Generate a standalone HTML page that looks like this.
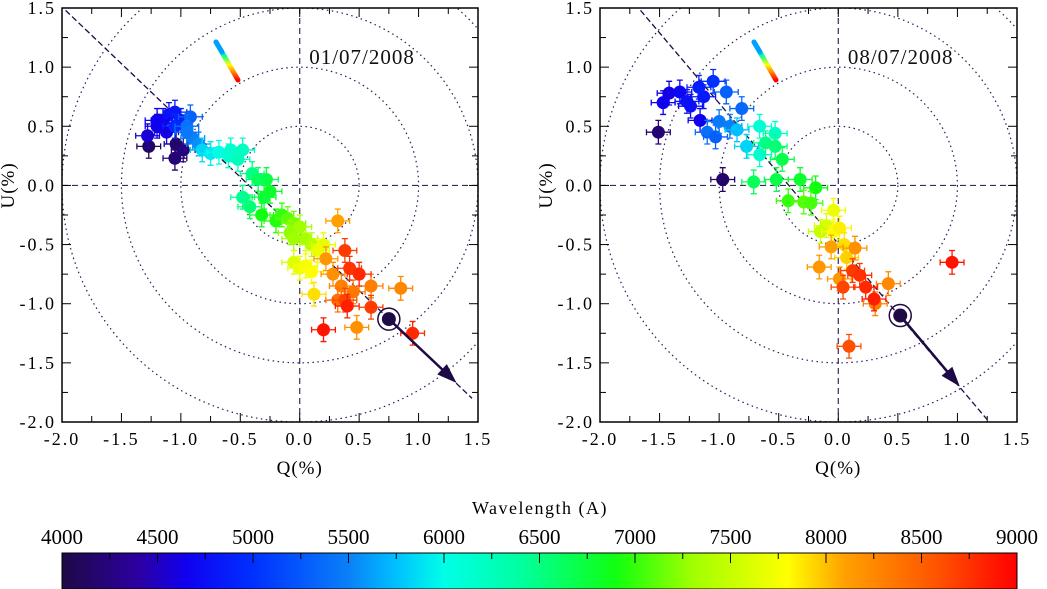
<!DOCTYPE html>
<html><head><meta charset="utf-8">
<style>
html,body{margin:0;padding:0;background:#fff;}
svg{display:block;font-family:"Liberation Serif",serif;}
svg text{font-family:"Liberation Serif",serif;}
</style></head>
<body>
<svg id="chart" width="1047" height="589" viewBox="0 0 1047 589" xmlns="http://www.w3.org/2000/svg">
<defs>
<linearGradient id="cbar" x1="0" x2="1" y1="0" y2="0">
<stop offset="0" stop-color="#1e0a45"/>
<stop offset="0.08" stop-color="#2c00a0"/>
<stop offset="0.13" stop-color="#1000f0"/>
<stop offset="0.2" stop-color="#0030ff"/>
<stop offset="0.3" stop-color="#0a80f8"/>
<stop offset="0.35" stop-color="#00c0ff"/>
<stop offset="0.4" stop-color="#00ffe8"/>
<stop offset="0.48" stop-color="#00ffa0"/>
<stop offset="0.58" stop-color="#10ff10"/>
<stop offset="0.66" stop-color="#a0ff00"/>
<stop offset="0.76" stop-color="#ffff00"/>
<stop offset="0.82" stop-color="#ffa000"/>
<stop offset="0.92" stop-color="#ff5000"/>
<stop offset="1" stop-color="#ff0000"/>
</linearGradient>
<linearGradient id="comet" x1="0" y1="0" x2="0" y2="1">
<stop offset="0" stop-color="#00a0ff"/>
<stop offset="0.35" stop-color="#00ffa0"/>
<stop offset="0.6" stop-color="#ffff00"/>
<stop offset="1" stop-color="#ff0000"/>
</linearGradient>
</defs>
<g id="layer"></g>
</svg>
<script>
// Panel 1 (01/07/2008)
const p1Q=[-1.27,-1.04,-1.05,-0.98,-1.28,-1.2,-1.15,-1.1,-1.05,-1.0,-1.12,-1.2,-1.05,-0.92,-0.95,-0.9,-0.85,-0.95,-0.82,-0.75,-0.68,-0.6,-0.58,-0.48,-0.52,-0.4,-0.35,-0.28,-0.48,-0.42,-0.3,-0.25,-0.32,-0.2,-0.15,-0.1,-0.05,-0.08,0.0,0.05,0.1,-0.05,-0.05,0.0,0.05,0.1,0.12,0.2,0.15,0.32,0.22,0.28,0.35,0.45,0.48,0.6,0.85,0.32,0.38,0.42,0.5,0.38,0.2,0.4,0.6,0.95];
const p1U=[0.33,0.35,0.23,0.30,0.42,0.5,0.55,0.6,0.62,0.55,0.45,0.55,0.5,0.58,0.5,0.4,0.35,0.45,0.3,0.27,0.28,0.25,0.3,0.3,0.22,0.1,0.05,0.05,-0.1,-0.18,-0.1,-0.05,-0.25,-0.3,-0.25,-0.28,-0.32,-0.4,-0.35,-0.45,-0.5,-0.45,-0.65,-0.7,-0.68,-0.73,-0.92,-0.5,-0.55,-0.3,-0.62,-0.75,-0.85,-0.9,-1.2,-0.85,-0.87,-0.97,-0.55,-0.7,-0.75,-0.97,-1.22,-1.02,-1.03,-1.25];
const p1W=[4100,4150,4200,4250,4600,4700,4750,4800,4850,4900,4650,4700,4950,5300,5400,5500,5550,5450,5800,5900,6000,6100,6150,6200,6250,6500,6600,6700,6450,6550,6750,6800,6900,6950,7000,7100,7200,7250,7300,7350,7400,7300,7600,7700,7750,7800,7900,7650,7700,8100,8150,8200,8300,8350,8200,8300,8250,8400,8700,8750,8800,8650,8900,8850,8700,8800];
// Panel 2 (08/07/2008)
const p2Q=[-1.51,-0.97,-1.47,-1.42,-1.33,-1.24,-1.16,-1.13,-1.05,-1.17,-1.27,-0.94,-0.81,-1.1,-1.03,-1.0,-0.91,-0.85,-0.77,-0.66,-0.53,-0.66,-0.61,-0.53,-0.47,-0.71,-0.52,-0.32,-0.19,-0.42,-0.29,-0.23,-0.04,-0.1,-0.15,-0.04,0.01,0.05,0.07,-0.06,-0.16,0.14,0.01,0.42,0.31,0.09,0.12,0.18,0.04,0.23,0.3,0.955];
const p2U=[0.45,0.05,0.7,0.78,0.79,0.67,0.55,0.75,0.88,0.83,0.71,0.79,0.65,0.45,0.41,0.54,0.5,0.47,0.33,0.5,0.44,0.26,0.36,0.33,0.22,0.03,0.05,0.05,-0.02,-0.13,-0.14,-0.15,-0.21,-0.34,-0.39,-0.39,-0.36,-0.5,-0.61,-0.52,-0.69,-0.53,-0.79,-0.83,-1.0,-1.36,-0.72,-0.76,-0.86,-0.86,-0.96,-0.65];
const p2W=[4200,4150,4700,4650,4750,4800,4700,4850,5000,4900,4800,5300,5350,5400,5300,5450,5500,5700,5800,6100,6200,6150,6500,6550,6700,6650,6700,6800,6900,7000,7100,7050,7700,7600,7500,7800,7850,7900,7950,8100,8150,8200,8150,8250,8300,8600,8700,8750,8650,8800,8850,8900];
const ticksQ=[-2.0,-1.5,-1.0,-0.5,0.0,0.5,1.0,1.5];
const ticksU=[1.5,1.0,0.5,0.0,-0.5,-1.0,-1.5,-2.0];
const cbarTicks=[4000,4500,5000,5500,6000,6500,7000,7500,8000,8500,9000];

const NS="http://www.w3.org/2000/svg";
const FONT='"Liberation Serif", serif';
const L=document.getElementById('layer');
function mk(t,a,p){const e=document.createElementNS(NS,t);for(const k in a)e.setAttribute(k,a[k]);if(t==='text')e.setAttribute('font-family',FONT);(p||L).appendChild(e);return e;}
const stops=[[4000,[30,10,69]],[4400,[44,0,160]],[4700,[16,0,240]],[5000,[0,48,255]],[5500,[10,128,248]],[5700,[0,192,255]],[6000,[0,255,232]],[6400,[0,255,160]],[6900,[16,255,16]],[7300,[160,255,0]],[7800,[255,255,0]],[8100,[255,160,0]],[8600,[255,80,0]],[9000,[255,0,0]]];
function col(w){for(let i=0;i<stops.length-1;i++){const a=stops[i],b=stops[i+1];if(w<=b[0]){const t=Math.max(0,(w-a[0])/(b[0]-a[0]));const c=a[1].map((v,j)=>Math.round(v+(b[1][j]-v)*t));return `rgb(${c})`;}}return 'rgb(255,0,0)';}

function panel(x0,x1,Q,U,W,date,lineA,lineB,star,arrowEnd,name){
 const y0=8,y1=422;
 const sx=q=>x0+(q+2)/3.5*(x1-x0);
 const sy=u=>y0+(1.5-u)/3.5*(y1-y0);
 const g=mk('g',{});
 
 
 const cp='clip'+name;
 const clip=mk('clipPath',{id:cp},g);mk('rect',{x:x0,y:y0,width:x1-x0,height:y1-y0},clip);
 const inner=mk('g',{'clip-path':`url(#${cp})`},g);
 [0.5,1,1.5,2].forEach(r=>{const c=mk('ellipse',{cx:sx(0),cy:sy(0),rx:sx(r)-sx(0),ry:sy(0)-sy(r),fill:'none',stroke:'#2a1a5a','stroke-width':1.2,'stroke-dasharray':'1.5 3.5'},inner);});
 mk('line',{x1:x0,x2:x1,y1:sy(0),y2:sy(0),stroke:'#3a2a5a','stroke-width':1.2,'stroke-dasharray':'6 4'},inner);
 mk('line',{x1:sx(0),x2:sx(0),y1:y0,y2:y1,stroke:'#3a2a5a','stroke-width':1.2,'stroke-dasharray':'6 4'},inner);
 const dl=mk('line',{x1:sx(lineA[0]),y1:sy(lineA[1]),x2:sx(lineB[0]),y2:sy(lineB[1]),stroke:'#1e0a45','stroke-width':1.3,'stroke-dasharray':'6 3'},inner);
 
 for(let i=0;i<Q.length;i++){
  const c=col(W[i]),x=sx(Q[i]),y=sy(U[i]),ex=sx(0.1)-sx(0),ey=sy(0)-sy(0.1);
  const pg=mk('g',{},inner);
  
  
  mk('path',{d:`M${x-ex},${y}H${x+ex}M${x},${y-ey}V${y+ey}M${x-ex},${y-3}v6M${x+ex},${y-3}v6M${x-3},${y-ey}h6M${x-3},${y+ey}h6`,stroke:c,'stroke-width':1.3,fill:'none'},pg);
  mk('circle',{cx:x,cy:y,r:6.5,fill:c},pg);
 }
 const ar=mk('g',{},inner);
 
 const ax=sx(star[0]),ay=sy(star[1]),bx=sx(arrowEnd[0]),by=sy(arrowEnd[1]);
 const ang=Math.atan2(by-ay,bx-ax);
 mk('line',{x1:ax,y1:ay,x2:bx-10*Math.cos(ang),y2:by-10*Math.sin(ang),stroke:'#1e0a45','stroke-width':2.5},ar);
 const h=20,w=7;const px=-Math.sin(ang),py=Math.cos(ang);
 mk('polygon',{points:`${bx},${by} ${bx-h*Math.cos(ang)+w*px},${by-h*Math.sin(ang)+w*py} ${bx-h*Math.cos(ang)-w*px},${by-h*Math.sin(ang)-w*py}`,fill:'#1e0a45'},ar);
 mk('circle',{cx:ax,cy:ay,r:11,fill:'none',stroke:'#1e0a45','stroke-width':1.5},ar);
 mk('circle',{cx:ax,cy:ay,r:7,fill:'#1e0a45'},ar);
 const cm=mk('line',{x1:x0+154,y1:42,x2:x0+176,y2:80,stroke:'url(#comet)','stroke-width':5,'stroke-linecap':'round'},g);
 
 mk('line',{x1:x0+154,y1:42,x2:x0+160,y2:52,stroke:'#00a0ff','stroke-width':5,'stroke-linecap':'round'},g);
 const dt=mk('text',{x:sx(0.08),y:64,'font-size':21,fill:'#111','letter-spacing':'1'},g);dt.textContent=date;
 
 mk('rect',{x:x0,y:y0,width:x1-x0,height:y1-y0,fill:'none',stroke:'#000','stroke-width':1.5},g);
 for(let v=-2;v<=1.5001;v+=0.25){const x=sx(v),len=(Math.abs(v*2-Math.round(v*2))<1e-6)?9:6;
  mk('line',{x1:x,x2:x,y1:y1,y2:y1-len,stroke:'#000','stroke-width':1},g);mk('line',{x1:x,x2:x,y1:y0,y2:y0+len,stroke:'#000','stroke-width':1},g);
  const y=sy(v);mk('line',{x1:x0,x2:x0+len,y1:y,y2:y,stroke:'#000','stroke-width':1},g);mk('line',{x1:x1,x2:x1-len,y1:y,y2:y,stroke:'#000','stroke-width':1},g);}
 ticksQ.forEach(v=>{const t=mk('text',{x:sx(v),y:y1+23,'text-anchor':'middle','font-size':18,'letter-spacing':'2'},g);t.textContent=v.toFixed(1);});
 ticksU.forEach(v=>{const t=mk('text',{x:x0-6,y:sy(v)+6,'text-anchor':'end','font-size':18,'letter-spacing':'2'},g);t.textContent=v.toFixed(1);});
 const xt=mk('text',{x:sx(0),y:y1+52,'text-anchor':'middle','font-size':19,'letter-spacing':'1'},g);xt.textContent='Q(%)';
 
 const yt=mk('text',{x:0,y:0,'text-anchor':'middle','font-size':19,'letter-spacing':'1',transform:`translate(${x0-48},${sy(0)}) rotate(-90)`},g);yt.textContent='U(%)';
 
}
panel(62,478,p1Q,p1U,p1W,'01/07/2008',[-1.97,1.48],[1.45,-1.8],[0.75,-1.13],[1.32,-1.67],'panel-2008-07-01');
panel(600,1017,p2Q,p2U,p2W,'08/07/2008',[-1.66,1.48],[1.25,-1.98],[0.52,-1.1],[1.02,-1.7],'panel-2008-07-08');

const cx0=62,cx1=1017,cy0=553,cy1=589;
const cb=mk('rect',{x:cx0,y:cy0,width:cx1-cx0,height:cy1-cy0,fill:'url(#cbar)',stroke:'#000','stroke-width':1});

const cs=w=>cx0+(w-4000)/5000*(cx1-cx0);
for(let w=4000;w<=9000;w+=250){mk('line',{x1:cs(w),x2:cs(w),y1:cy0,y2:cy0+(w%500?6:10),stroke:'#000','stroke-width':1});}
cbarTicks.forEach(w=>{const t=mk('text',{x:cs(w),y:544,'text-anchor':'middle','font-size':21});t.textContent=w;});
const ct=mk('text',{x:540,y:514,'text-anchor':'middle','font-size':18,'letter-spacing':'1.5'});ct.textContent='Wavelength (A)';

</script>
</body></html>
